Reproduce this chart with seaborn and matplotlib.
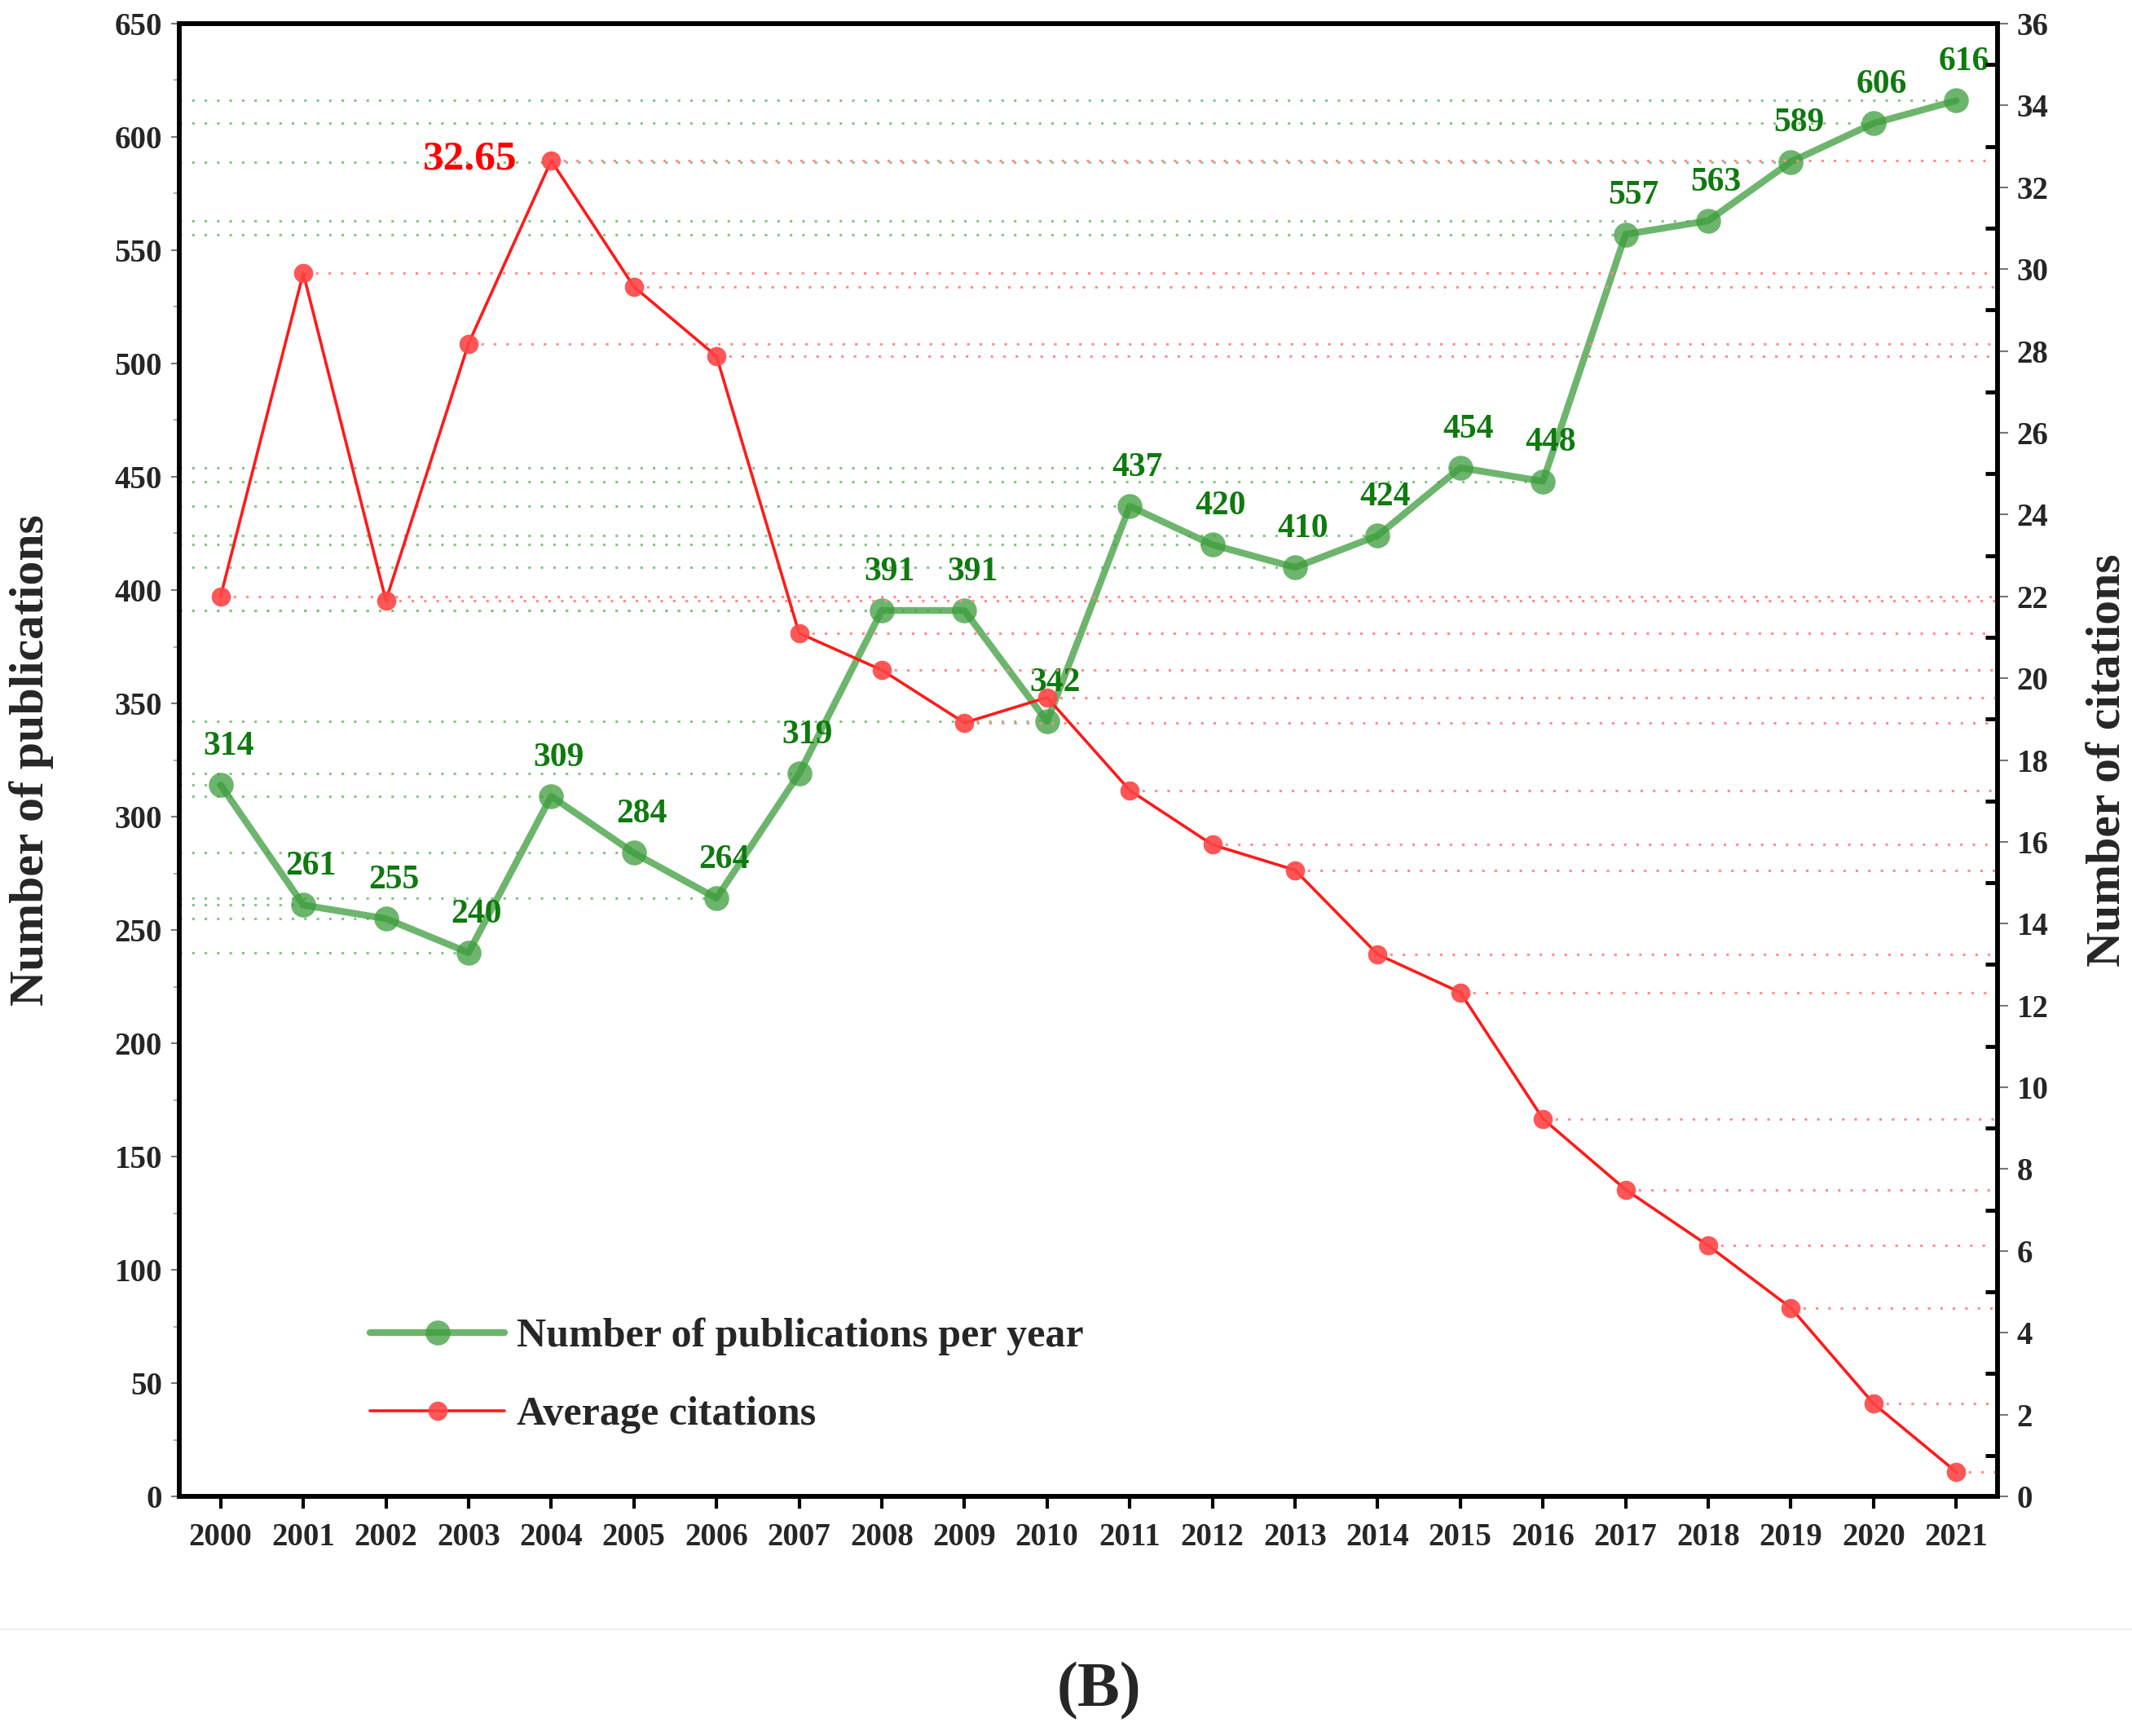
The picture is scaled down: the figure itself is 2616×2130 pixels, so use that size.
import matplotlib
matplotlib.use("Agg")
import matplotlib.pyplot as plt
from matplotlib.lines import Line2D
from matplotlib.ticker import MultipleLocator
import seaborn as sns
import pandas as pd

# ---- data ----
years = list(range(2000, 2022))
publications = [314, 261, 255, 240, 309, 284, 264, 319, 391, 391, 342,
                437, 420, 410, 424, 454, 448, 557, 563, 589, 606, 616]
citations = [22.0, 29.9, 21.9, 28.18, 32.65, 29.57, 27.87, 21.10, 20.20, 18.91, 19.53,
             17.26, 15.93, 15.31, 13.25, 12.32, 9.23, 7.50, 6.13, 4.61, 2.27, 0.60]
pub_label = "Number of publications per year"
cit_label = "Average citations"
left_ylabel = "Number of publications"
right_ylabel = "Number of citations"
peak_text = "32.65"
panel_text = "(B)"

df = pd.DataFrame({"year": years, "pubs": publications, "cites": citations})

sns.set_theme(style="white")
plt.rcParams["font.family"] = ["Liberation Serif", "DejaVu Serif"]
plt.rcParams["font.weight"] = "bold"
plt.rcParams["axes.labelweight"] = "bold"

fig = plt.figure(figsize=(26.16, 21.30), dpi=100)
ax = fig.add_axes([0.0841, 0.138, 0.9369 - 0.0841, 0.9864 - 0.138])
ax2 = ax.twinx()

XMIN, XMAX = 1999.5, 2021.5
GREEN = "#3c9d3c"
RED = "#ff1a1a"

# drop lines
ax.hlines(df["pubs"], XMIN, df["year"], colors="#86c486", linestyles=(0, (1, 4)),
          linewidth=2.2, zorder=1)
ax2.hlines(df["cites"], df["year"], XMAX, colors="#ff8c8c", linestyles=(0, (1, 4)),
           linewidth=2.2, zorder=1)

sns.lineplot(data=df, x="year", y="pubs", ax=ax, color=GREEN, linewidth=6,
             marker="o", markersize=22, markeredgewidth=0, alpha=0.75,
             label=pub_label, legend=False, zorder=3)
sns.lineplot(data=df, x="year", y="cites", ax=ax2, color=RED, linewidth=2.6,
             marker="o", markersize=17, markeredgewidth=0,
             markerfacecolor=(1.0, 0.27, 0.27, 0.9),
             label=cit_label, legend=False, zorder=4)

# value labels
for x, y in zip(years, publications):
    ax.annotate(str(y), (x, y), xytext=(7, 34), textcoords="offset points",
                ha="center", va="center", fontsize=30, fontweight="bold",
                color="#0f7a0f", zorder=6)
imax = citations.index(max(citations))
ax2.annotate(peak_text, (years[imax], citations[imax]), xytext=(-30, 1),
             textcoords="offset points", ha="right", va="center",
             fontsize=37, fontweight="bold", color="#ff0000")

# axes limits & ticks
ax.set_xlim(XMIN, XMAX)
ax.set_ylim(0, 650)
ax2.set_ylim(0, 36)
ax.set_xticks(years)
ax.set_xticklabels([str(y) for y in years])
ax.yaxis.set_major_locator(MultipleLocator(50))
ax.yaxis.set_minor_locator(MultipleLocator(25))
ax2.yaxis.set_major_locator(MultipleLocator(2))
ax2.yaxis.set_minor_locator(MultipleLocator(1))

ax.tick_params(axis="x", which="major", direction="out", length=11, width=3,
               color="black", labelsize=28, pad=12, bottom=True, top=False)
ax.tick_params(axis="y", which="major", direction="out", length=7, width=1.5,
               color="#777777", labelsize=28, pad=8, left=True)
ax.tick_params(axis="y", which="minor", direction="out", length=5, width=1.2,
               color="#999999", left=True)
ax2.tick_params(axis="y", which="major", direction="out", length=9, width=1.5,
                color="#777777", labelsize=28, pad=8, right=True)
ax2.tick_params(axis="y", which="minor", direction="in", length=11, width=3.5,
                color="black", right=True)
for a in (ax, ax2):
    for lab in a.get_xticklabels() + a.get_yticklabels():
        lab.set_fontweight("bold")
    for s in a.spines.values():
        s.set_visible(True)
        s.set_color("black")
        s.set_linewidth(4)

ax.set_xlabel("")
ax.set_ylabel(left_ylabel, fontsize=43, fontweight="bold")
ax2.set_ylabel(right_ylabel, fontsize=43, fontweight="bold")
ax.yaxis.set_label_coords(-0.069, 0.5)
ax2.yaxis.set_label_coords(1.049, 0.5)
ax.grid(False)
ax2.grid(False)

# legend
h1, l1 = ax.get_legend_handles_labels()
h2, l2 = ax2.get_legend_handles_labels()
ax2.legend(h1 + h2, l1 + l2, loc="center left", bbox_to_anchor=(0.1049, 0.082),
           frameon=False, handlelength=3.3, handletextpad=0.3,
           labelspacing=1.0, borderpad=0, borderaxespad=0,
           prop={"family": "Liberation Serif", "weight": "bold", "size": 36})

# separator and panel label
fig.add_artist(Line2D([0, 1], [0.0615, 0.0615], transform=fig.transFigure,
                      color="#eeeeee", linewidth=1.5))
fig.text(0.5153, 0.026, panel_text, ha="center", va="center", fontsize=56,
         fontweight="bold")

fig.savefig("out.png", dpi=100)
